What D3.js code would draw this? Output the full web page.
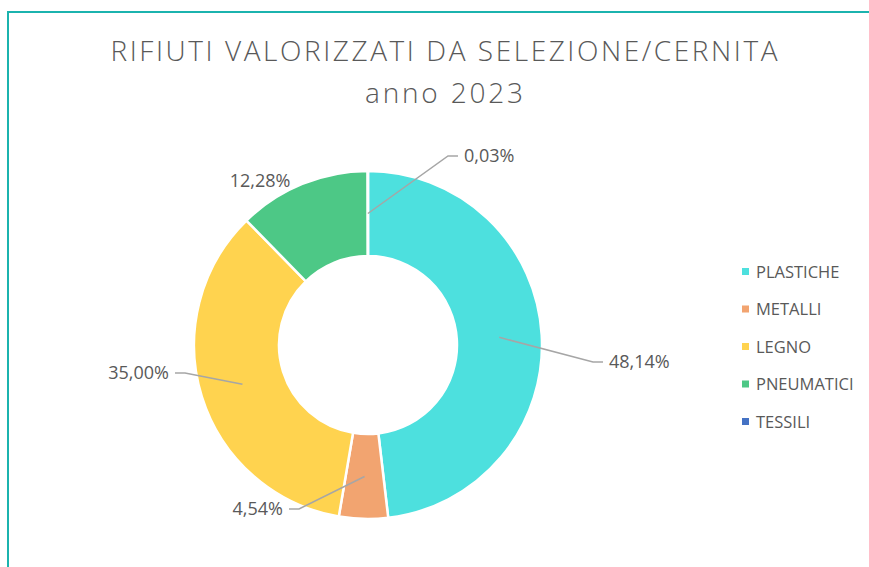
<!DOCTYPE html>
<html>
<head>
<meta charset="utf-8">
<script src="https://cdn.jsdelivr.net/npm/d3@7"></script>
<style>
  body { margin: 0; background: #fff; }
  svg { display: block; font-family: "Open Sans", sans-serif; }
</style>
</head>
<body>
<svg width="869" height="567"></svg>
<script>
var categories = ["PLASTICHE", "METALLI", "LEGNO", "PNEUMATICI", "TESSILI"];
var values = [48.14, 4.54, 35.00, 12.28, 0.03];
var colors = ["#4DE0DE", "#F2A470", "#FFD34F", "#4DC886", "#4472C4"];
var titleLines = ["RIFIUTI VALORIZZATI DA SELEZIONE/CERNITA", "anno 2023"];
var titleWidths = [667, 158];

var data = categories.map(function(c, i){ return {name: c, value: values[i], color: colors[i]}; });

var svg = d3.select("svg");
var cx = 368, cy = 345;
var outerR = 174, innerR = 89;

// frame
svg.append("rect")
    .attr("x", 8).attr("y", 12)
    .attr("width", 880).attr("height", 580)
    .attr("fill", "none")
    .attr("stroke", "#1BB3AE")
    .attr("stroke-width", 2);

// title
svg.selectAll("text.title")
    .data(titleLines)
    .enter().append("text")
    .attr("class", "title")
    .attr("x", 444)
    .attr("y", function(d, i){ return 61 + i * 42; })
    .attr("text-anchor", "middle")
    .attr("fill", "#595959")
    .attr("font-size", 28)
    .attr("font-weight", 300)
    .attr("textLength", function(d, i){ return titleWidths[i]; })
    .attr("lengthAdjust", "spacing")
    .text(function(d){ return d; });

var pie = d3.pie().sort(null).value(function(d){ return d.value; });
var arc = d3.arc().innerRadius(innerR).outerRadius(outerR);
var mid = d3.arc().innerRadius((innerR + outerR) / 2).outerRadius((innerR + outerR) / 2);

var g = svg.append("g").attr("transform", "translate(" + cx + "," + cy + ")");
var arcs = pie(data);

g.selectAll("path.slice")
    .data(arcs)
    .enter().append("path")
    .attr("class", "slice")
    .attr("d", arc)
    .attr("fill", function(d){ return d.data.color; })
    .attr("stroke", "#fff")
    .attr("stroke-width", 2.5);

// label layout (relative to centre): end of leader line and text side
var labelLayout = {
    "PLASTICHE":  {x: 235, y: 17, elbow: true, anchor: "start"},
    "METALLI":    {x: -79, y: 164, elbow: true, anchor: "end"},
    "LEGNO":      {x: -193, y: 28, elbow: true, anchor: "end"},
    "PNEUMATICI": {x: -108, y: -164, elbow: false, anchor: "middle"},
    "TESSILI":    {x: 90, y: -189, elbow: true, anchor: "start"}
};
var fmt = function(v){ return v.toFixed(2).replace(".", ",") + "%"; };

arcs.forEach(function(d){
    var L = labelLayout[d.data.name];
    var c = mid.centroid(d);
    var dir = L.anchor === "start" ? 1 : -1;
    if (L.elbow) {
        var ex = L.x - dir * 10;
        g.append("polyline")
            .attr("points", [c, [ex, L.y], [L.x, L.y]].map(function(p){ return p.join(","); }).join(" "))
            .attr("fill", "none")
            .attr("stroke", "#A6A6A6")
            .attr("stroke-width", 1.5);
    }
    g.append("text")
        .attr("x", L.x + (L.elbow ? dir * 6 : 0))
        .attr("y", L.y)
        .attr("dy", "0.35em")
        .attr("text-anchor", L.anchor)
        .attr("fill", "#595959")
        .attr("font-size", 18)
        .text(fmt(d.data.value));
});

// legend
var legend = svg.append("g").attr("transform", "translate(742,272)");
var rows = legend.selectAll("g")
    .data(data)
    .enter().append("g")
    .attr("transform", function(d, i){ return "translate(0," + (i * 37.5) + ")"; });
rows.append("rect")
    .attr("x", 0).attr("y", -4)
    .attr("width", 7).attr("height", 7)
    .attr("fill", function(d){ return d.color; });
rows.append("text")
    .attr("x", 14).attr("dy", "0.35em")
    .attr("fill", "#595959")
    .attr("font-size", 16.5)
    .text(function(d){ return d.name; });
</script>
</body>
</html>
